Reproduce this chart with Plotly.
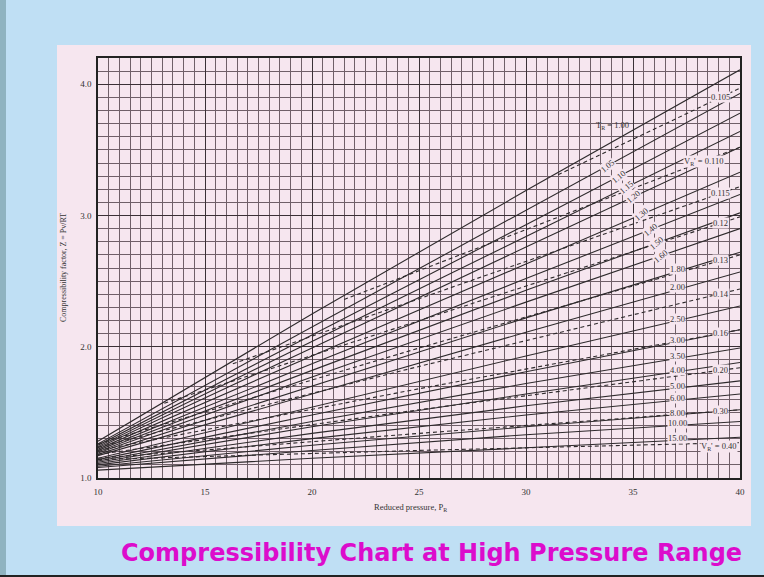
import numpy as np
import plotly.graph_objects as go

# ---------------- data ----------------
P_R = [10, 20, 30, 40]
T_R_labels = ["1.00", "1.05", "1.10", "1.15", "1.20", "1.30", "1.40", "1.50", "1.60",
              "1.80", "2.00", "2.50", "3.00", "3.50", "4.00", "5.00", "6.00", "8.00",
              "10.00", "15.00"]
Z_T100 = [1.28, 2.25, 3.19, 4.11]
Z_T105 = [1.26, 2.15, 3.04, 3.93]
Z_T110 = [1.25, 2.09, 2.93, 3.78]
Z_T115 = [1.24, 2.04, 2.84, 3.64]
Z_T120 = [1.23, 1.99, 2.76, 3.52]
Z_T130 = [1.22, 1.93, 2.63, 3.33]
Z_T140 = [1.21, 1.87, 2.52, 3.16]
Z_T150 = [1.20, 1.82, 2.43, 3.02]
Z_T160 = [1.19, 1.77, 2.34, 2.90]
Z_T180 = [1.18, 1.70, 2.22, 2.72]
Z_T200 = [1.17, 1.64, 2.11, 2.57]
Z_T250 = [1.15, 1.54, 1.93, 2.31]
Z_T300 = [1.14, 1.48, 1.81, 2.13]
Z_T350 = [1.13, 1.43, 1.72, 1.99]
Z_T400 = [1.12, 1.39, 1.64, 1.88]
Z_T500 = [1.11, 1.34, 1.55, 1.74]
Z_T600 = [1.10, 1.30, 1.48, 1.64]
Z_T800 = [1.09, 1.25, 1.39, 1.52]
Z_T1000 = [1.08, 1.21, 1.33, 1.43]
Z_T1500 = [1.06, 1.15, 1.23, 1.31]
Z_T = [Z_T100, Z_T105, Z_T110, Z_T115, Z_T120, Z_T130, Z_T140, Z_T150, Z_T160,
       Z_T180, Z_T200, Z_T250, Z_T300, Z_T350, Z_T400, Z_T500, Z_T600, Z_T800,
       Z_T1000, Z_T1500]

# pseudo-reduced volume isochores (dashed)
V_R_labels = ["0.105", "V<sub>R</sub>' = 0.110", "0.115", "0.12", "0.13", "0.14",
              "0.16", "0.20", "0.30", "V<sub>R</sub>' = 0.40"]
P_V105 = [31.5, 40];   Z_V105 = [3.31, 3.97]
P_V110 = [21.5, 40];   Z_V110 = [2.36, 3.52]
P_V115 = [16.3, 40];   Z_V115 = [1.87, 3.22]
P_V120 = [13.1, 40];   Z_V120 = [1.57, 2.99]
P_V130 = [10, 25, 40]; Z_V130 = [1.26, 1.99, 2.70]
P_V140 = [10, 25, 40]; Z_V140 = [1.235, 1.85, 2.44]
P_V160 = [10, 25, 40]; Z_V160 = [1.21, 1.68, 2.13]
P_V200 = [10, 25, 40]; Z_V200 = [1.18, 1.52, 1.84]
P_V300 = [10, 25, 40]; Z_V300 = [1.15, 1.34, 1.52]
P_V400 = [10, 25, 40]; Z_V400 = [1.14, 1.21, 1.27]
P_V = [P_V105, P_V110, P_V115, P_V120, P_V130, P_V140, P_V160, P_V200, P_V300, P_V400]
Z_V = [Z_V105, Z_V110, Z_V115, Z_V120, Z_V130, Z_V140, Z_V160, Z_V200, Z_V300, Z_V400]

x_ticks = [10, 15, 20, 25, 30, 35, 40]
y_ticks = [1.0, 2.0, 3.0, 4.0]
y_tick_text = ["1.0", "2.0", "3.0", "4.0"]

SLIDE_TITLE = "Compressibility Chart at High Pressure Range"
Y_TITLE = "Compressibility factor, Z = Pv/RT"
X_TITLE = "Reduced pressure, P<sub>R</sub>"

# ---------------- figure ----------------
W, H = 764, 577
ML, MR, MT, MB = 98, 24, 58, 99
PW, PH = W - ML - MR, H - MT - MB
BLUE = "#bfdff4"
PINK = "#f6e6ef"
INK = "#2e2a2c"
SERIF = "Liberation Serif, DejaVu Serif, serif"


def px_x(X):
    return (X - ML) / PW


def px_y(Y):
    return (H - MB - Y) / PH


fig = go.Figure()

for lab, z in zip(T_R_labels, Z_T):
    fig.add_trace(go.Scatter(x=P_R, y=z, mode="lines", name="T_R = " + lab,
                             line=dict(color=INK, width=1.1),
                             hoverinfo="name", showlegend=False))

for lab, p, z in zip(V_R_labels, P_V, Z_V):
    fig.add_trace(go.Scatter(x=p, y=z, mode="lines", name="v_R' = " + lab,
                             line=dict(color=INK, width=1.1, dash="4px,3px"),
                             hoverinfo="name", showlegend=False))

annotations = []
lab_font = dict(family=SERIF, size=8.5, color="#333")

# T_R labels
steep_pos = {"1.05": 33.8, "1.10": 34.3, "1.15": 34.7, "1.20": 35.0, "1.30": 35.4,
             "1.40": 35.8, "1.50": 36.1, "1.60": 36.3}
for lab, z in zip(T_R_labels, Z_T):
    if lab == "1.00":
        pp = 34.3
        annotations.append(dict(x=pp, y=float(np.interp(pp, P_R, z)), text="T<sub>R</sub> = 1.00",
                                showarrow=False, font=lab_font, yshift=13, xshift=-6))
    elif lab in steep_pos:
        pp = steep_pos[lab]
        annotations.append(dict(x=pp, y=float(np.interp(pp, P_R, z)), text=lab,
                                showarrow=False, font=lab_font, textangle=-40,
                                bgcolor=PINK, borderpad=0))
    else:
        pp = 37.1
        annotations.append(dict(x=pp, y=float(np.interp(pp, P_R, z)), text=lab,
                                showarrow=False, font=lab_font, bgcolor=PINK,
                                borderpad=0, yshift=2))

# isochore labels
for lab, p, z in zip(V_R_labels, P_V, Z_V):
    if lab.endswith("0.40"):
        pp, ys = 39.0, -3
    elif "V<sub>" in lab:
        pp, ys = 38.3, 0
    else:
        pp, ys = 39.1, 0
    annotations.append(dict(x=pp, y=float(np.interp(pp, p, z)), text=lab, yshift=ys,
                            showarrow=False, font=lab_font, bgcolor=PINK, borderpad=0))

# axis titles
annotations.append(dict(xref="paper", yref="paper", x=px_x(63), y=0.5, text=Y_TITLE,
                        textangle=-90, showarrow=False, xanchor="center", yanchor="middle",
                        font=dict(family=SERIF, size=8, color="#333")))
annotations.append(dict(xref="paper", yref="paper", x=px_x(410), y=px_y(507), text=X_TITLE,
                        showarrow=False, xanchor="center", yanchor="middle",
                        font=dict(family=SERIF, size=8.5, color="#333")))
# slide title
annotations.append(dict(xref="paper", yref="paper", x=px_x(431), y=px_y(553), text=SLIDE_TITLE,
                        showarrow=False, xanchor="center", yanchor="middle",
                        font=dict(family="DejaVu Sans, Verdana, sans-serif", size=24,
                                  color="#dc0ccc", weight=900)))

shapes = [
    # pink panel
    dict(type="rect", xref="paper", yref="paper", x0=px_x(57), x1=px_x(751), y0=px_y(526), y1=px_y(45),
         fillcolor=PINK, line=dict(width=0), layer="below"),
    # left dark stripe of the slide window
    dict(type="rect", xref="paper", yref="paper", x0=px_x(0), x1=px_x(6), y0=px_y(577), y1=px_y(0),
         fillcolor="#8fb3c0", line=dict(width=0), layer="below"),
    # bottom dark border
    dict(type="rect", xref="paper", yref="paper", x0=px_x(0), x1=px_x(764), y0=px_y(577), y1=px_y(575),
         fillcolor="#222222", line=dict(width=0), layer="below"),
]

grid_col = "#6f5f68"
fig.update_layout(
    width=W, height=H,
    margin=dict(l=ML, r=MR, t=MT, b=MB, pad=0),
    paper_bgcolor=BLUE, plot_bgcolor=PINK,
    showlegend=False,
    annotations=annotations,
    shapes=shapes,
    xaxis=dict(range=[10, 40], tickvals=x_ticks, ticks="", showgrid=True,
               gridcolor="#3a3036", gridwidth=1,
               minor=dict(dtick=0.5, tick0=10, showgrid=True, gridcolor=grid_col, gridwidth=1),
               showline=True, mirror=True, linecolor="#222", linewidth=1.5,
               zeroline=False, tickfont=dict(family=SERIF, size=9, color="#333"),
               ticklabelstandoff=4),
    yaxis=dict(range=[1.0, 4.2], tickvals=y_ticks, ticktext=y_tick_text, ticks="",
               showgrid=True, gridcolor="#3a3036", gridwidth=1,
               minor=dict(dtick=0.1, tick0=1.0, showgrid=True, gridcolor=grid_col, gridwidth=1),
               showline=True, mirror=True, linecolor="#222", linewidth=1.5,
               zeroline=False, tickfont=dict(family=SERIF, size=9, color="#333"),
               ticklabelstandoff=3),
)

fig.write_html("out.html", config={"displayModeBar": False},
               post_script="document.body.style.margin='0';document.body.style.overflow='hidden';")
